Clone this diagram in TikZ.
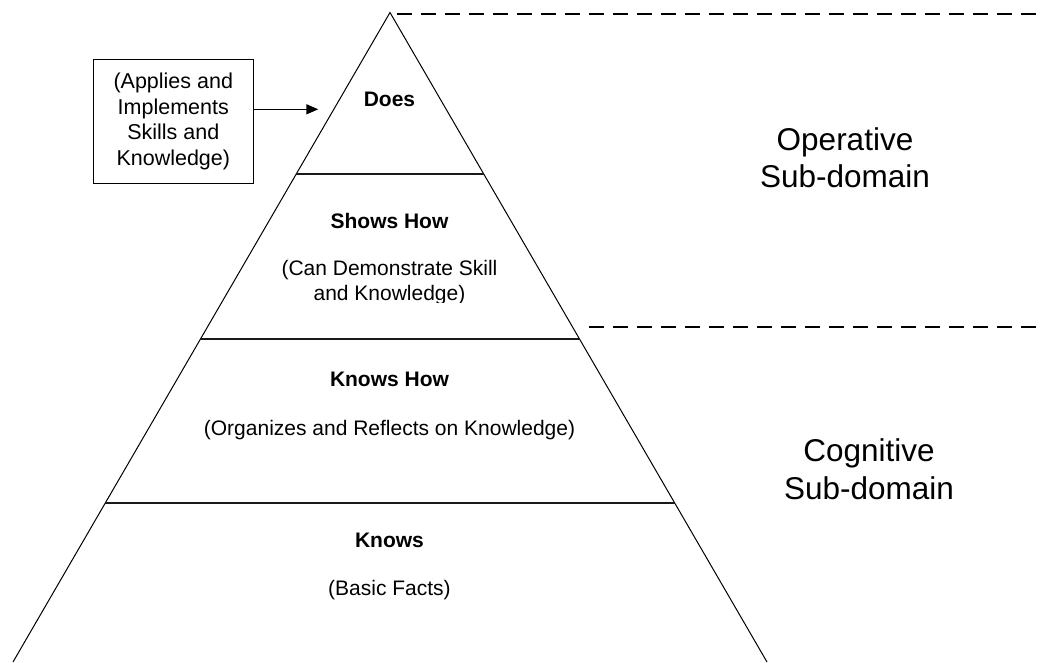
\documentclass[tikz,border=0pt]{standalone}
\usepackage{fontspec}
\setmainfont{Liberation Sans}
\usetikzlibrary{arrows.meta,calc}
\begin{document}
\begin{tikzpicture}[x=1pt,y=-1pt,
  side/.style={line width=1pt},
  layerline/.style={line width=2pt, draw=black!90},
  divider/.style={line width=2pt, dash pattern=on 15pt off 9pt},
  leveltitle/.style={anchor=base, inner sep=0pt, font=\fontsize{21}{25}\selectfont\bfseries},
  leveldesc/.style={anchor=base, inner sep=0pt, font=\fontsize{21}{25}\selectfont},
  domlabel/.style={anchor=base, inner sep=0pt, font=\fontsize{31.5}{38}\selectfont},
  notebox/.style={draw, line width=1.2pt, minimum width=160pt, minimum height=124pt, inner sep=0pt, align=center, font=\fontsize{21.5}{25.5}\selectfont},
  pointer/.style={line width=1.4pt, -{Triangle[length=12pt,width=10pt]}},
  ]
\useasboundingbox (0,0) rectangle (1045,662);
% pyramid
\coordinate (apex) at (390,12.5);
\coordinate (bl) at (13,662);
\coordinate (br) at (767,662);
\draw[side] (bl) -- (apex) -- (br);
\draw[layerline] ($(apex)!0.2487!(bl)$) -- ($(apex)!0.2487!(br)$);
\draw[layerline] ($(apex)!0.5027!(bl)$) -- ($(apex)!0.5027!(br)$);
\draw[layerline] ($(apex)!0.7552!(bl)$) -- ($(apex)!0.7552!(br)$);
% dividers
\coordinate (d1s) at (397,14);
\coordinate (d1e) at (1045,14);
\coordinate (d2s) at (589,326.7);
\coordinate (d2e) at (1045,326.7);
\draw[divider] (d1s) -- (d1e);
\draw[divider] (d2s) -- (d2e);
% level texts
\node[leveltitle] (does) at (389.5,106) {Does};
\node[leveltitle] (shows) at (389.5,228.5) {Shows How};
\begin{scope}
\clip (0,0) rectangle (1045,302.5);
\node[leveldesc] (shows1) at (389.5,275) {(Can Demonstrate Skill};
\node[leveldesc] (shows2) at (389.5,300) {and Knowledge)};
\end{scope}
\node[leveltitle] (knowshow) at (389.5,386) {Knows How};
\node[leveldesc] (knowshow1) at (389.5,435) {(Organizes and Reflects on Knowledge)};
\node[leveltitle] (knows) at (389.5,547) {Knows};
\node[leveldesc] (knows1) at (389.5,595) {(Basic Facts)};
% domain labels
\node[domlabel] (op1) at (845,150) {Operative};
\node[domlabel] (op2) at (845,187.7) {Sub-domain};
\node[domlabel] (cg1) at (869,461.7) {Cognitive};
\node[domlabel] (cg2) at (869,499) {Sub-domain};
% note box and arrow
\node[notebox] (box) at (173.3,121.3) {(Applies and\\Implements\\Skills and\\Knowledge)};
\coordinate (arrtip) at (318.3,109.3);
\draw[pointer] (box.east |- arrtip) -- (arrtip);
\end{tikzpicture}
\end{document}
